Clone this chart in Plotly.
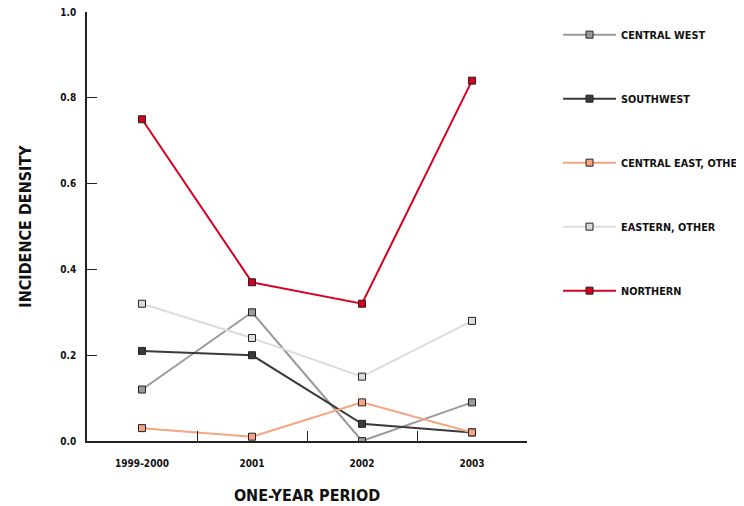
import plotly.graph_objects as go

periods = ["1999-2000", "2001", "2002", "2003"]
series_names = ["CENTRAL WEST", "SOUTHWEST", "CENTRAL EAST, OTHER", "EASTERN, OTHER", "NORTHERN"]
central_west = [0.12, 0.30, 0.00, 0.09]
southwest = [0.21, 0.20, 0.04, 0.02]
central_east = [0.03, 0.01, 0.09, 0.02]
eastern = [0.32, 0.24, 0.15, 0.28]
northern = [0.75, 0.37, 0.32, 0.84]
y_ticks = [0.0, 0.2, 0.4, 0.6, 0.8, 1.0]

values = [central_west, southwest, central_east, eastern, northern]
colors = ["#9a9a9a", "#3a3a3a", "#f4a582", "#dcdcdc", "#d7001f"]

FONT = "DejaVu Sans Condensed, Liberation Sans Narrow, sans-serif"

fig = go.Figure()
for i, (name, vals, col) in enumerate(zip(series_names, values, colors)):
    fig.add_trace(go.Scatter(
        x=periods, y=vals, name=f"<b>{name}</b>", mode="lines+markers",
        line=dict(color=col, width=2),
        marker=dict(symbol="square", size=7, color=col, line=dict(color="#222222", width=1)),
        legendgroup=f"g{i}",
    ))

# The page body adds an 8px offset; size the figure so the plot lands where the reference has it.
fig.update_layout(
    width=736, height=498,
    margin=dict(l=79, r=217, t=4, b=65, autoexpand=False),
    paper_bgcolor="white", plot_bgcolor="white",
    font=dict(family=FONT, color="#111111"),
    showlegend=True,
    legend=dict(x=1.0705, xanchor="left", y=0.981, yanchor="top",
                tracegroupgap=45, font=dict(family=FONT, size=10.8, color="#111111"),
                itemwidth=53),
    xaxis=dict(
        type="category", range=[-0.5, 3.5], automargin=False,
        showline=True, linecolor="#222222", linewidth=1.5,
        ticks="inside", ticklen=10, tickcolor="#222222", tickwidth=1,
        tickson="boundaries", showgrid=False, zeroline=False,
        ticklabelstandoff=12,
        tickfont=dict(family=FONT, size=10, color="#111111", weight="bold"),
        title=dict(text="<b>ONE-YEAR PERIOD</b>", font=dict(family=FONT, size=16, color="#111111"), standoff=22),
    ),
    yaxis=dict(
        range=[0, 1.0], tickvals=y_ticks, tickformat=".1f", automargin=False,
        showline=True, linecolor="#222222", linewidth=1.5,
        ticks="inside", ticklen=10, tickcolor="#222222", tickwidth=1,
        showgrid=False, zeroline=False,
        ticklabelstandoff=7, ticklabeloverflow="allow",
        tickfont=dict(family=FONT, size=10, color="#111111", weight="bold"),
        title=dict(text="<b>INCIDENCE DENSITY</b>", font=dict(family=FONT, size=16, color="#111111"), standoff=25),
    ),
)

fig.write_html("out.html")
